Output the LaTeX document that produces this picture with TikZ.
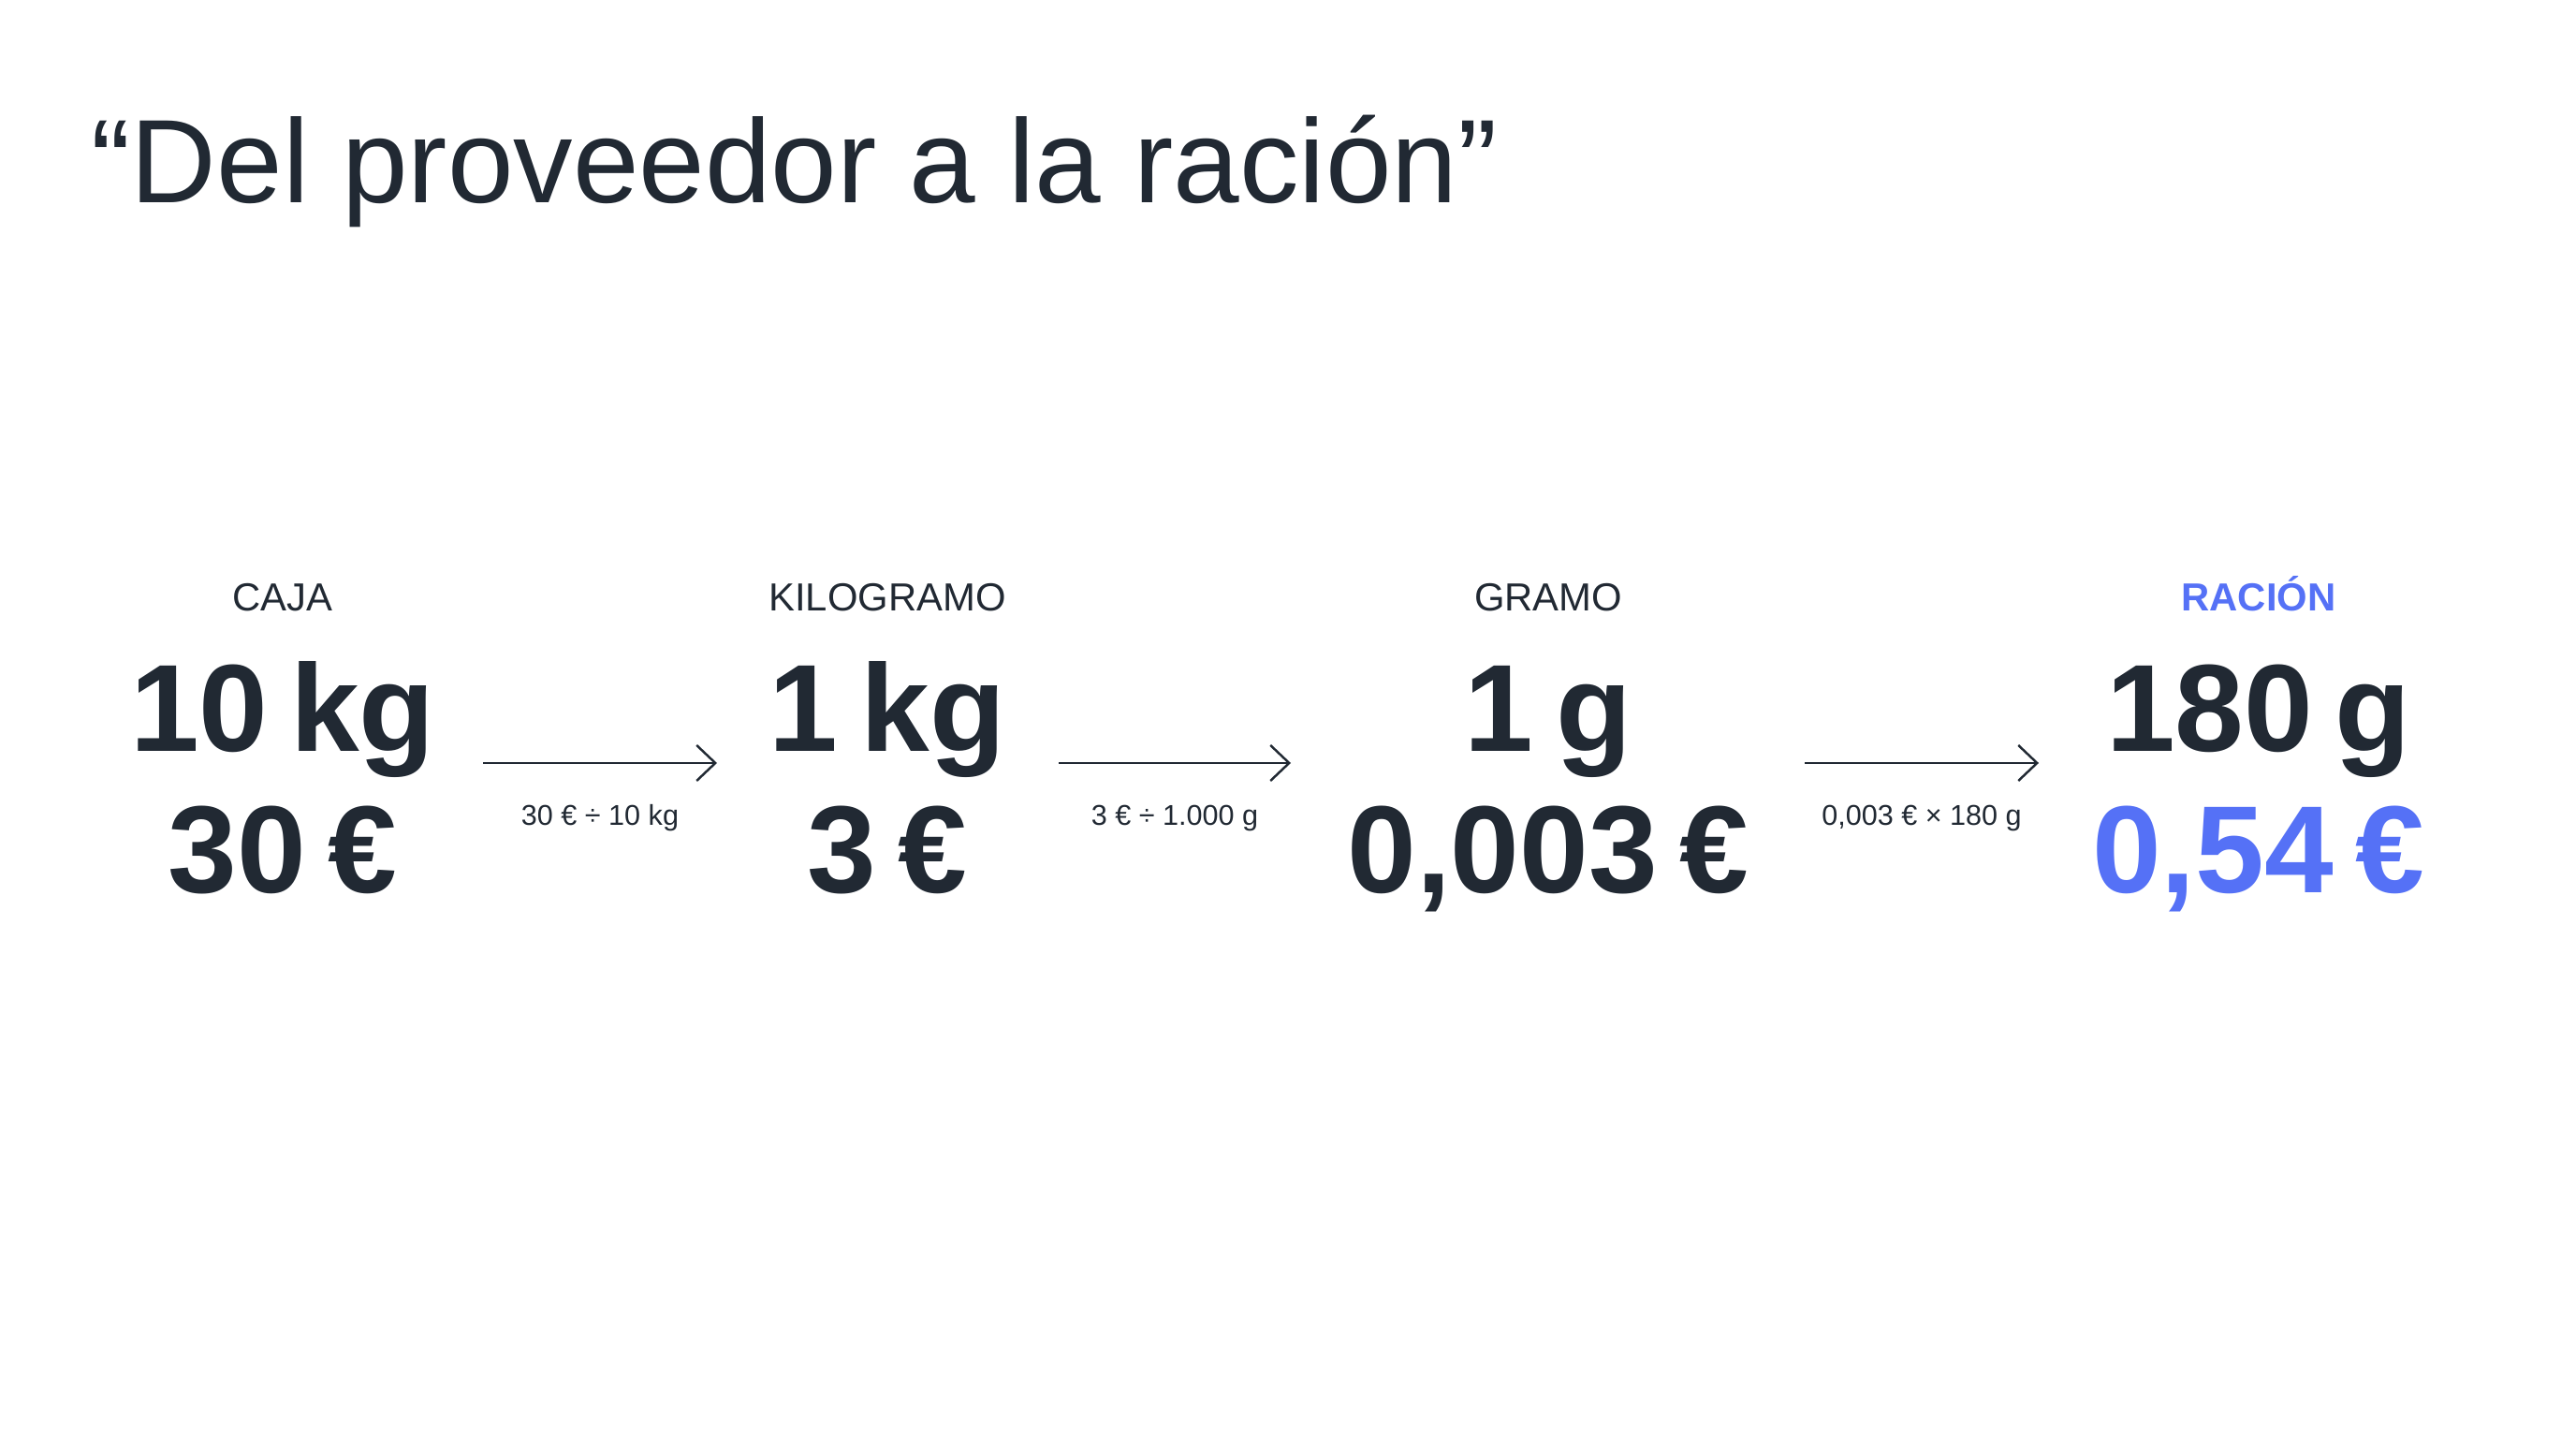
\documentclass[tikz,border=0pt]{standalone}
\usepackage{fontspec}
\setmainfont{Liberation Sans}
\newfontfamily\bignum[WordSpace=0.65]{Liberation Sans}
\usetikzlibrary{positioning, arrows.meta}
\definecolor{ink}{RGB}{33,41,51}
\definecolor{accent}{RGB}{85,113,246}

\begin{document}
\begin{tikzpicture}[
    node distance=0.54cm,
    every node/.style={inner sep=0pt, text=ink, text depth=0pt},
    title/.style={font=\fontsize{36.1}{40}\selectfont, anchor=base west},
    head/.style={font=\fontsize{11.9}{13}\selectfont, text height=0.30cm, anchor=south},
    big/.style={font=\bignum\fontsize{37.7}{40}\selectfont\bfseries, text height=0.95cm},
    op/.style={font=\fontsize{8.7}{10}\selectfont, text height=0.22cm},
    arrow/.style={-{Straight Barb[length=2mm, width=3.8mm]}, line width=0.7pt, draw=ink}
]
\fill[white] (0,0) rectangle (27.52,15.36);
\useasboundingbox (0,0) rectangle (27.52,15.36);

\node[title] (titulo) at (0.97,13.19) {“Del proveedor a la ración”};

\node[head] (caja) at (3.02,8.83) {CAJA};
\node[big, below=of caja] (w1) {10 kg};
\node[big, below=of w1] (p1) {30 €};

\node[head] (kilo) at (9.48,8.83) {KILOGRAMO};
\node[big, below=of kilo] (w2) {1 kg};
\node[big, below=of w2] (p2) {3 €};

\node[head] (gramo) at (16.54,8.83) {GRAMO};
\node[big, below=of gramo] (w3) {1 g};
\node[big, below=of w3] (p3) {0,003 €};

\node[head, text=accent, font=\fontsize{11.9}{13}\selectfont\bfseries] (racion) at (24.13,8.83) {RACIÓN};
\node[big, below=of racion] (w4) {180 g};
\node[big, below=of w4, text=accent] (p4) {0,54 €};

\coordinate (a1) at (5.16,7.21);
\coordinate (b1) at (7.66,7.21);
\coordinate (a2) at (11.31,7.21);
\coordinate (b2) at (13.79,7.21);
\coordinate (a3) at (19.28,7.21);
\coordinate (b3) at (21.78,7.21);

\draw[arrow] (a1) -- (b1) node[op, midway, below=0.43cm] (op1) {30 € ÷ 10 kg};
\draw[arrow] (a2) -- (b2) node[op, midway, below=0.43cm] (op2) {3 € ÷ 1.000 g};
\draw[arrow] (a3) -- (b3) node[op, midway, below=0.43cm] (op3) {0,003 € × 180 g};

\end{tikzpicture}
\end{document}
